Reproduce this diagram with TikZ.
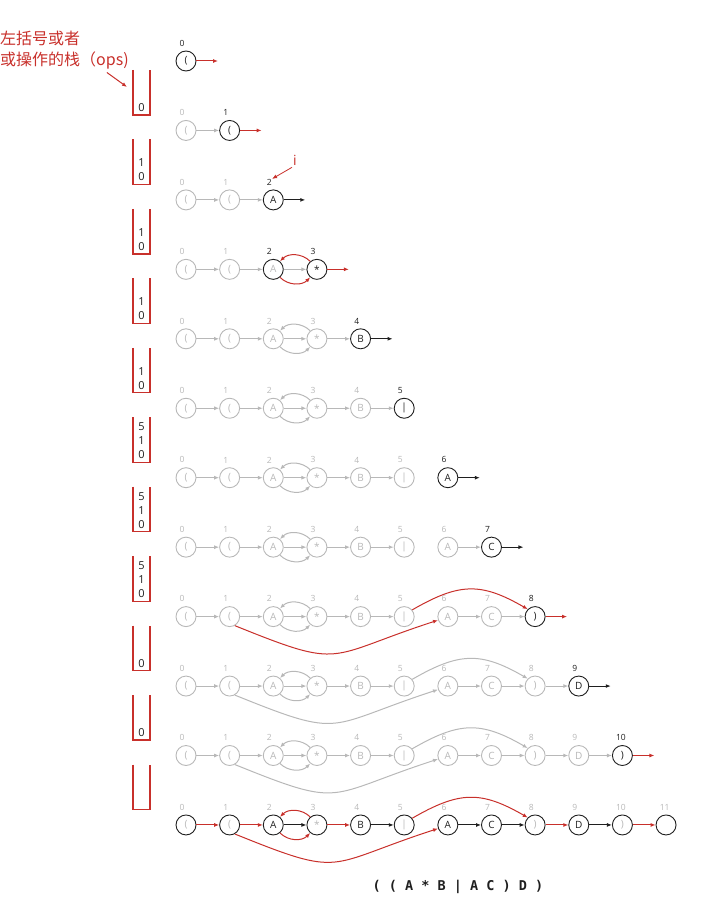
\documentclass[tikz,border=0pt]{standalone}
\usepackage{fontspec}
\setmainfont{Open Sans}
\newfontfamily\cjk{Noto Sans CJK SC}
\newfontfamily\monob{DejaVu Sans Mono}
\usetikzlibrary{arrows.meta, positioning, calc}

\definecolor{rd}{HTML}{C8302B}
\definecolor{lg}{gray}{0.72}
\definecolor{bk}{gray}{0.12}

% one char of the regex per column
\newcommand\symb[1]{\ifcase#1 (\or (\or A\or *\or B\or |\or A\or C\or )\or D\or )\or \fi}
% colour of the arrow leaving a column, and of its char in the last row
\newcommand\arrc[1]{\ifcase#1 rd\or rd\or bk\or rd\or bk\or none\or bk\or bk\or rd\or bk\or rd\or bk\fi}
\newcommand\txtc[1]{\ifcase#1 lg\or lg\or bk\or lg\or bk\or lg\or bk\or bk\or lg\or bk\or lg\or bk\fi}

\begin{document}
\begin{tikzpicture}[x=1pt, y=1pt,
    circ/.style={circle, draw, minimum size=20pt, inner sep=0pt, line width=0.9pt, font=\fontsize{10}{12}\selectfont},
    idx/.style={inner sep=0pt, font=\fontsize{8.5}{10}\selectfont},
    arr/.style={-{Latex[length=5pt, width=4pt]}, line width=1pt},
    stackbox/.style={draw=rd, line width=1.2pt}]
\useasboundingbox (0,0) rectangle (703,-909);

% label of the stack
\node[anchor=north west, align=left, inner sep=0pt, text=rd, font=\cjk\fontsize{16}{21}\selectfont] (opslbl) at (0,-31) {左括号或者\\或操作的栈（ops)};
\coordinate (stk1) at (127,-87);
\draw[arr, draw=rd] ($(opslbl.south east)+(-22,-3)$) -- (stk1);

% the stacks
\foreach \k in {1,...,11} {
  \pgfmathsetmacro\ytop{-(70+69.45*(\k-1))}
  \draw[stackbox] (133,\ytop) -- (133,\ytop-45) -- (150,\ytop-45) -- (150,\ytop);
}
\foreach \k/\items in {1/{0}, 2/{0,1}, 3/{0,1}, 4/{0,1}, 5/{0,1}, 6/{0,1,5}, 7/{0,1,5}, 8/{0,1,5}, 9/{0}, 10/{0}} {
  \pgfmathsetmacro\ybot{-(115+69.45*(\k-1))}
  \foreach \d [count=\i] in \items
    \node[font=\fontsize{11}{13}\selectfont, text=bk, inner sep=0pt] (s\k-\i) at (141.5,\ybot+7.5+14*\i-14) {\d};
}

% the rows
\foreach \r in {0,...,11} {
  \pgfmathsetmacro\yy{-(61+69.45*\r)}
  \foreach \j in {0,...,\r} {
    \ifnum\j<\r \def\bc{lg}\def\tc{lg}\def\lc{lg}\else \def\bc{bk}\def\tc{bk}\def\lc{bk}\fi
    \ifnum\r=3 \ifnum\j=2 \def\bc{bk}\def\lc{bk}\fi\fi
    \ifnum\r=11 \def\bc{bk}\def\lc{lg}\edef\tc{\txtc{\j}}\fi
    \node[circ, draw=\bc, text=\tc] (n\r-\j) at (186+43.64*\j,\yy) {\symb{\j}};
    \node[idx, text=\lc, above=4pt of n\r-\j, anchor=south west, xshift=-6.5pt] (l\r-\j) {\j};
  }
  % neighbours (nothing from 5 to 6)
  \ifnum\r>0
    \foreach \j in {1,...,\r} {
      \pgfmathtruncatemacro\jp{\j-1}
      \ifnum\r=11 \edef\ec{\arrc{\jp}}\else \def\ec{lg}\fi
      \ifnum\jp=5 \else \draw[arr, draw=\ec] (n\r-\jp) -- (n\r-\j); \fi
    }
  \fi
  % arrow out of the current char
  \ifnum\r<11
    \edef\ec{\arrc{\r}}
    \coordinate (e\r) at ($(n\r-\r)+(32,0)$);
    \ifnum\r=5 \else \draw[arr, draw=\ec] (n\r-\r) -- (e\r); \fi
  \fi
  % closure around A*
  \ifnum\r>2
    \ifnum\r=3 \def\ec{rd}\else\ifnum\r=11 \def\ec{rd}\else \def\ec{lg}\fi\fi
    \draw[arr, draw=\ec] (n\r-2.-50) to[bend right=45] (n\r-3.-130);
    \draw[arr, draw=\ec] (n\r-3.130) to[bend right=45] (n\r-2.50);
  \fi
  % or
  \ifnum\r>7
    \ifnum\r=8 \def\ec{rd}\else\ifnum\r=11 \def\ec{rd}\else \def\ec{lg}\fi\fi
    \draw[arr, draw=\ec] (n\r-1.-60) to[out=-22, in=198, looseness=1.5] (n\r-6.200);
    \draw[arr, draw=\ec] (n\r-5.40) to[out=30, in=150, looseness=1.2] (n\r-8.135);
  \fi
}

% pointer i
\node[text=rd, inner sep=0pt, font=\fontsize{14}{16}\selectfont] (ilbl) at (295,-160) {i};
\draw[arr, draw=rd, line width=0.8pt] ($(ilbl.south)+(-3,-2)$) -- (l2-2.north east);

% the regex
\node[text=bk, font=\monob\bfseries\fontsize{13.5}{16}\selectfont] (regex) at (458,-887) {( ( A * B | A C ) D )};
\end{tikzpicture}
\end{document}
